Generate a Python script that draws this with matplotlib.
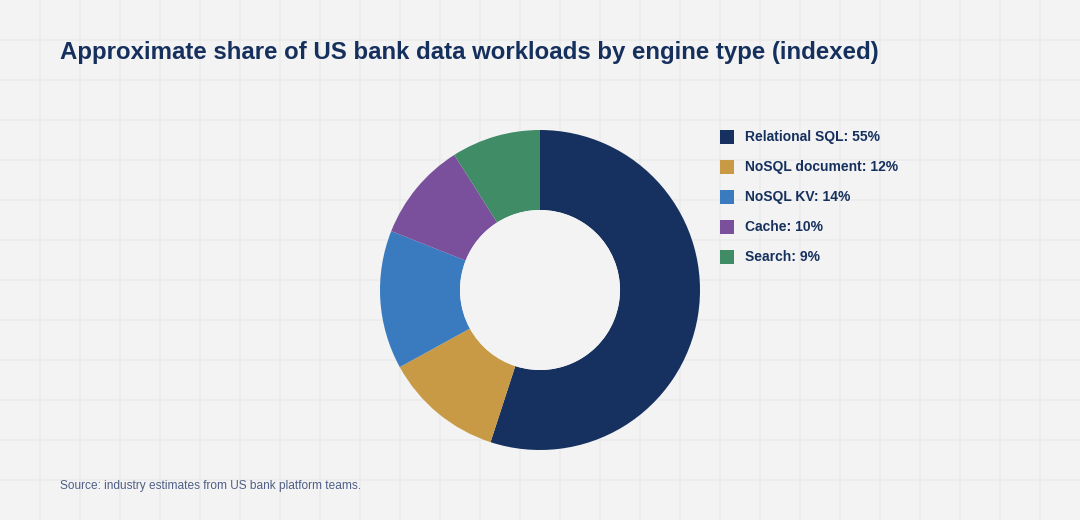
import matplotlib
matplotlib.use("Agg")
import matplotlib.pyplot as plt
from matplotlib.patches import Circle, Rectangle

# Data
engines = ['Relational SQL', 'NoSQL document', 'NoSQL KV', 'Cache', 'Search']
shares = [55, 12, 14, 10, 9]
colors = ['#16315f', '#c89a45', '#3a7bc0', '#7a509c', '#3f8c66']

TITLE = 'Approximate share of US bank data workloads by engine type (indexed)'
SOURCE = 'Source: industry estimates from US bank platform teams.'

W, H = 1080, 520
BG = '#f3f3f3'
GRID = '#ebebeb'
NAVY = '#16305e'

plt.rcParams['font.family'] = ['Liberation Sans', 'DejaVu Sans']

fig = plt.figure(figsize=(W / 100, H / 100), dpi=100, facecolor=BG)

# background with 40px grid, pixel coordinates
bg = fig.add_axes([0, 0, 1, 1])
bg.set_xlim(0, W)
bg.set_ylim(H, 0)
bg.set_facecolor(BG)
bg.axis('off')
for x in range(40, W, 40):
    bg.axvline(x, color=GRID, lw=1.1, zorder=0)
for y in range(40, H, 40):
    bg.axhline(y, color=GRID, lw=1.1, zorder=0)

bg.text(60, 52, TITLE, fontsize=17.3, fontweight='bold', color=NAVY,
        ha='left', va='center')
bg.text(60, 486, SOURCE, fontsize=8.6, color='#4f5f85', ha='left', va='center')

# legend
for i, (name, val, c) in enumerate(zip(engines, shares, colors)):
    yc = 137 + i * 30
    bg.add_patch(Rectangle((720, yc - 7), 14, 14, facecolor=c, edgecolor='none'))
    bg.text(745, yc, f'{name}: {val}%', fontsize=10.0, fontweight='bold',
            color=NAVY, ha='left', va='center')

# donut: center (540, 290), outer radius 160 px, inner 80 px
cx, cy, r = 540, 290, 160
ax = fig.add_axes([(cx - r) / W, (H - cy - r) / H, 2 * r / W, 2 * r / H])
ax.pie(shares, colors=colors, startangle=90, counterclock=False,
       radius=1.0, wedgeprops=dict(width=0.5, edgecolor='none', linewidth=0))
ax.add_patch(Circle((0, 0), 0.5, facecolor=BG, edgecolor='none', zorder=5))
ax.set_xlim(-1, 1)
ax.set_ylim(-1, 1)
ax.set_aspect('equal')
ax.axis('off')

fig.savefig('out.png', dpi=100, facecolor=BG)
